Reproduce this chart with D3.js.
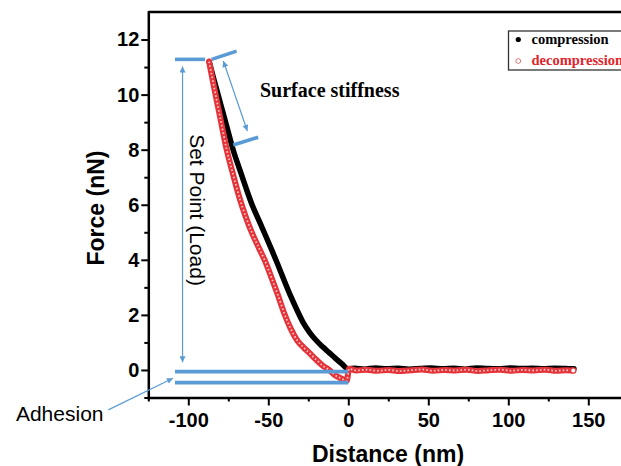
<!DOCTYPE html>
<html>
<head>
<meta charset="utf-8">
<script src="https://cdn.jsdelivr.net/npm/d3@7"></script>
<style>
  body { margin: 0; background: #fff; }
  svg { display: block; }
</style>
</head>
<body>
<svg id="chart" width="621" height="466"></svg>
<script>
// Force–distance curve: approach (compression) and retract (decompression)
const compressionX = [-87, -84, -80, -76, -72, -68, -64, -60, -56, -52, -48, -44, -40, -36, -32, -28, -24, -20, -16, -12, -8, -4, 0,
  4, 10, 17, 24, 31, 38, 45, 52, 59, 66, 73, 80, 87, 94, 101, 108, 115, 122, 129, 136, 141];
const compressionY = [11.2, 10.55, 9.7, 8.85, 8.0, 7.3, 6.62, 5.98, 5.45, 4.92, 4.38, 3.82, 3.24, 2.68, 2.17, 1.70, 1.35, 1.07, 0.84, 0.63, 0.42, 0.22, 0.04,
  0.06, 0.03, 0.07, 0.04, 0.06, 0.03, 0.05, 0.07, 0.04, 0.06, 0.03, 0.07, 0.05, 0.04, 0.07, 0.05, 0.06, 0.04, 0.06, 0.05, 0.04];

const decompressionX = [-87, -84, -80, -76, -72, -68, -64, -60, -56, -52, -48, -44, -40, -36, -32, -28, -24, -20, -16, -12, -8, -4, -1,
  0.5, 5, 11, 18, 25, 32, 39, 46, 53, 60, 67, 74, 81, 88, 95, 102, 109, 116, 123, 130, 136, 140];
const decompressionY = [11.2, 10.3, 9.15, 8.0, 7.1, 6.25, 5.55, 4.95, 4.45, 3.95, 3.35, 2.72, 2.05, 1.50, 1.08, 0.82, 0.60, 0.37, 0.16, 0.0, -0.2, -0.32, -0.4,
  0.04, -0.02, 0.01, -0.03, 0.0, -0.04, -0.01, 0.02, -0.03, 0.0, -0.02, 0.01, -0.04, -0.01, 0.01, -0.03, 0.0, -0.02, 0.01, -0.03, -0.01, -0.02];

const seriesNames = ["compression", "decompression"];
const xTicks = [-100, -50, 0, 50, 100, 150];
const xMinorTicks = [-125, -75, -25, 25, 75, 125];
const yTicks = [0, 2, 4, 6, 8, 10, 12];
const yMinorTicks = [-1, 1, 3, 5, 7, 9, 11];

const svg = d3.select("#chart");
const x = d3.scaleLinear().domain([-125, 175]).range([148.3, 628.3]);
const y = d3.scaleLinear().domain([-1, 13]).range([397.5, 12]);

const blue = "#5b9bd5";
const sans = "'Liberation Sans', Arial, sans-serif";
const serif = "'Liberation Serif', 'Times New Roman', serif";

// arrow head marker
svg.append("defs").append("marker")
  .attr("id", "ah")
  .attr("viewBox", "0 0 10 10")
  .attr("refX", 10).attr("refY", 5)
  .attr("markerWidth", 8).attr("markerHeight", 6)
  .attr("markerUnits", "userSpaceOnUse")
  .attr("orient", "auto-start-reverse")
  .append("path").attr("d", "M0,0L10,5L0,10Z").attr("fill", blue);

// data curves
const line = d3.line().x(d => x(d[0])).y(d => y(d[1])).curve(d3.curveMonotoneX);
const comp = compressionX.map((v, i) => [v, compressionY[i]]);
const decomp = decompressionX.map((v, i) => [v, decompressionY[i]]);

svg.append("path").datum(comp)
  .attr("d", line).attr("fill", "none")
  .attr("stroke", "#000").attr("stroke-width", 5.5)
  .attr("stroke-linejoin", "round").attr("stroke-linecap", "round");

svg.append("path").datum(decomp)
  .attr("d", line).attr("fill", "none")
  .attr("stroke", "#e5333a").attr("stroke-width", 6)
  .attr("stroke-linejoin", "round").attr("stroke-linecap", "round");
// hollow centres of the open-circle markers
svg.append("path").datum(decomp)
  .attr("d", line).attr("fill", "none")
  .attr("stroke", "#f6c4c4").attr("stroke-width", 1.8)
  .attr("stroke-dasharray", "1.6 2.2");
const last = decomp[decomp.length - 1];
svg.append("circle")
  .attr("cx", x(last[0]) + 1).attr("cy", y(last[1]))
  .attr("r", 2.6).attr("fill", "#fff")
  .attr("stroke", "#e5333a").attr("stroke-width", 1.2);

// axes
svg.append("g").attr("transform", `translate(0,${y(-1)})`)
  .call(d3.axisBottom(x).tickValues(xTicks).tickSize(8).tickSizeOuter(0)
    .tickPadding(7).tickFormat(d => String(d)));
svg.append("g").attr("transform", `translate(0,${y(-1)})`)
  .call(d3.axisBottom(x).tickValues(xMinorTicks).tickSize(4).tickSizeOuter(0).tickFormat(""))
  .select(".domain").remove();

svg.append("g").attr("transform", `translate(${x(-125)},0)`)
  .call(d3.axisLeft(y).tickValues(yTicks).tickSize(7).tickSizeOuter(0)
    .tickPadding(2).tickFormat(d => String(d)));
svg.append("g").attr("transform", `translate(${x(-125)},0)`)
  .call(d3.axisLeft(y).tickValues(yMinorTicks).tickSize(4).tickSizeOuter(0).tickFormat(""))
  .select(".domain").remove();

svg.selectAll(".domain").attr("stroke-width", 2.5).attr("stroke-linecap", "square");
svg.selectAll(".tick line").attr("stroke-width", 2);
svg.selectAll(".tick text")
  .attr("font-family", sans).attr("font-size", 20).attr("font-weight", "bold").attr("fill", "#000");

// top frame
svg.append("line")
  .attr("x1", x(-125)).attr("x2", x(175))
  .attr("y1", y(13)).attr("y2", y(13))
  .attr("stroke", "#000").attr("stroke-width", 2.5);

// axis titles
svg.append("text")
  .attr("x", 388).attr("y", 462)
  .attr("text-anchor", "middle")
  .attr("font-family", sans).attr("font-size", 23).attr("font-weight", "bold")
  .text("Distance (nm)");
svg.append("text")
  .attr("transform", "translate(104,208) rotate(-90)")
  .attr("text-anchor", "middle")
  .attr("font-family", sans).attr("font-size", 23).attr("font-weight", "bold")
  .text("Force (nN)");

// annotation helpers
const thick = (x1, y1, x2, y2) => svg.append("line")
  .attr("x1", x(x1)).attr("y1", y(y1)).attr("x2", x(x2)).attr("y2", y(y2))
  .attr("stroke", blue).attr("stroke-width", 3.6);
const thin = (x1, y1, x2, y2) => svg.append("line")
  .attr("x1", x(x1)).attr("y1", y(y1)).attr("x2", x(x2)).attr("y2", y(y2))
  .attr("stroke", blue).attr("stroke-width", 1.2);

// set point
thick(-108.3, 11.28, -89.5, 11.28);
thin(-103.6, 0.28, -103.6, 11.02).attr("marker-start", "url(#ah)").attr("marker-end", "url(#ah)");
svg.append("text")
  .attr("transform", "translate(190,210) rotate(90)")
  .attr("text-anchor", "middle")
  .attr("font-family", sans).attr("font-size", 21)
  .text("Set Point (Load)");

// surface stiffness
thick(-85.4, 11.28, -69.8, 11.58);
thick(-71.9, 8.17, -56.3, 8.45);
thin(-78.1, 11.22, -63.1, 8.68).attr("marker-start", "url(#ah)").attr("marker-end", "url(#ah)");
svg.append("text")
  .attr("x", 260).attr("y", 97)
  .attr("font-family", serif).attr("font-size", 20).attr("font-weight", "bold")
  .text("Surface stiffness");

// adhesion
thick(-108.3, -0.06, 0, -0.06);
thick(-108.3, -0.46, 0, -0.46);
thin(-150, -1.45, -109.6, -0.3).attr("marker-end", "url(#ah)");
svg.append("text")
  .attr("x", 103.5).attr("y", 421)
  .attr("text-anchor", "end")
  .attr("font-family", sans).attr("font-size", 21)
  .text("Adhesion");

// legend
const lg = svg.append("g");
lg.append("rect")
  .attr("x", 508.5).attr("y", 31).attr("width", 140).attr("height", 39)
  .attr("fill", "#fff").attr("stroke", "#333").attr("stroke-width", 1.3);
lg.append("circle").attr("cx", 518.3).attr("cy", 39.5).attr("r", 2.6).attr("fill", "#000");
lg.append("circle").attr("cx", 518.3).attr("cy", 61).attr("r", 2.4)
  .attr("fill", "#fff").attr("stroke", "#d87a7a").attr("stroke-width", 1);
lg.selectAll("text.lab").data(seriesNames).join("text")
  .attr("class", "lab")
  .attr("x", 531.5).attr("y", (d, i) => i === 0 ? 43.5 : 64.5)
  .attr("font-family", serif).attr("font-size", 14.5).attr("font-weight", "bold")
  .attr("fill", (d, i) => i === 0 ? "#000" : "#e0242c")
  .text(d => d);
</script>
</body>
</html>
